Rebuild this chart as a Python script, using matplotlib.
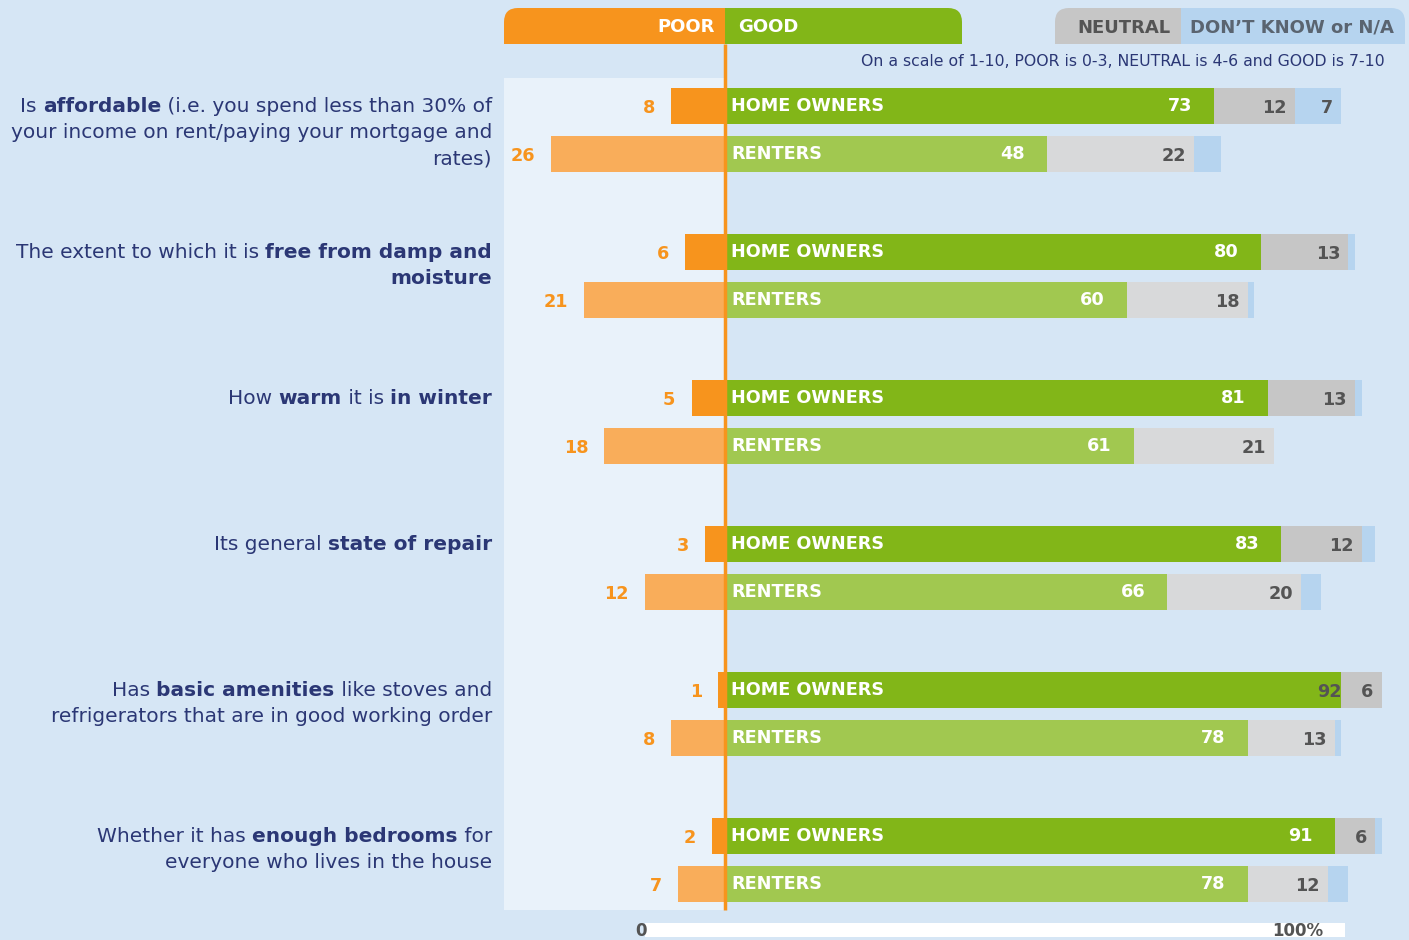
import numpy as np
import matplotlib
matplotlib.use("Agg")
import matplotlib.pyplot as plt
from matplotlib.patches import FancyBboxPatch, Rectangle

# survey results, % of respondents
groups = ["HOME OWNERS", "RENTERS"]
owners_poor = [8, 6, 5, 3, 1, 2]
owners_good = [73, 80, 81, 83, 92, 91]
owners_neutral = [12, 13, 13, 12, 6, 6]
owners_dk = [7, 1, 1, 2, 0, 1]
renters_poor = [26, 21, 18, 12, 8, 7]
renters_good = [48, 60, 61, 66, 78, 78]
renters_neutral = [22, 18, 21, 20, 13, 12]
renters_dk = [4, 1, 0, 3, 1, 3]

questions = [
    [[("Is ", 0), ("affordable", 1), (" (i.e. you spend less than 30% of", 0)],
     [("your income on rent/paying your mortgage and", 0)],
     [("rates)", 0)]],
    [[("The extent to which it is ", 0), ("free from damp and", 1)],
     [("moisture", 1)]],
    [[("How ", 0), ("warm", 1), (" it is ", 0), ("in winter", 1)]],
    [[("Its general ", 0), ("state of repair", 1)]],
    [[("Has ", 0), ("basic amenities", 1), (" like stoves and", 0)],
     [("refrigerators that are in good working order", 0)]],
    [[("Whether it has ", 0), ("enough bedrooms", 1), (" for", 0)],
     [("everyone who lives in the house", 0)]],
]

BG = "#d6e6f5"
PANEL = "#e9f2fa"
NAVY = "#2b3775"
ORANGE = "#f7941d"
ORANGE_L = "#f9ad5a"
GREEN = "#82b618"
GREEN_L = "#a1c850"
GRAY = "#c6c6c6"
GRAY_L = "#d8d9da"
BLUE = "#b6d4ef"
DARK = "#545454"
FONT = "DejaVu Sans"

W, H = 1409, 940
X0 = 725          # pixel of zero line
PPU = 6.7         # pixels per percent
PX = 1 / PPU

fig = plt.figure(figsize=(W / 100, H / 100), dpi=100, facecolor=BG)

# decoration layer in pixel coordinates
deco = fig.add_axes([0, 0, 1, 1])
deco.set_xlim(0, W)
deco.set_ylim(H, 0)
deco.axis("off")
deco.set_facecolor(BG)

deco.add_patch(Rectangle((504, 78), X0 - 504, 910 - 78, color=PANEL, lw=0))


def tab(x0, x1, color, round_left, round_right):
    r = 14
    deco.add_patch(FancyBboxPatch((x0, 8), x1 - x0, 36, boxstyle="round,pad=0,rounding_size=%d" % r,
                                  fc=color, ec="none"))
    deco.add_patch(Rectangle((x0, 8 + r), x1 - x0, 36 - r, fc=color, ec="none"))
    if not round_left:
        deco.add_patch(Rectangle((x0, 8), r + 1, 36, fc=color, ec="none"))
    if not round_right:
        deco.add_patch(Rectangle((x1 - r - 1, 8), r + 1, 36, fc=color, ec="none"))


tab(504, X0, ORANGE, True, False)
tab(X0, 962, GREEN, False, True)
tab(1055, 1181, GRAY, True, False)
tab(1181, 1405, BLUE, False, True)

hdr = dict(fontsize=13, fontweight="bold", family=FONT, va="center")
deco.text(715, 27, "POOR", color="white", ha="right", **hdr)
deco.text(738, 27, "GOOD", color="white", ha="left", **hdr)
deco.text(1124, 28, "NEUTRAL", color=DARK, ha="center", **hdr)
deco.text(1292, 28, "DON\u2019T KNOW or N/A", color="#5a6470", ha="center", **hdr)
deco.text(1385, 62, "On a scale of 1-10, POOR is 0-3, NEUTRAL is 4-6 and GOOD is 7-10",
          color=NAVY, fontsize=11.3, ha="right", va="center", family=FONT)

# bottom scale
deco.add_patch(Rectangle((645, 923), 700, 14, fc="white", ec="none"))
deco.text(641, 931, "0", color=DARK, fontsize=12, fontweight="bold", ha="center", va="center", family=FONT)
deco.text(1323, 931, "100%", color=DARK, fontsize=12, fontweight="bold", ha="right", va="center", family=FONT)

# data layer: x in percent, y in pixel rows
ax = fig.add_axes([0, 0, 1, 1])
ax.set_xlim(-X0 / PPU, (W - X0) / PPU)
ax.set_ylim(H, 0)
ax.axis("off")
ax.patch.set_alpha(0)

first = 106
step = 146
gap = 48
bh = 36
y_owner = first + step * np.arange(len(owners_good))
y_rent = y_owner + gap

series = [
    (y_owner, owners_poor, owners_good, owners_neutral, owners_dk, ORANGE, GREEN, GRAY, groups[0]),
    (y_rent, renters_poor, renters_good, renters_neutral, renters_dk, ORANGE_L, GREEN_L, GRAY_L, groups[1]),
]

lab = dict(fontsize=12.7, fontweight="bold", family=FONT, va="center")
for ys, poor, good, neu, dk, cp, cg, cn, name in series:
    poor = np.array(poor)
    good = np.array(good)
    neu = np.array(neu)
    dk = np.array(dk)
    ax.barh(ys, poor, left=-poor, height=bh, color=cp, lw=0)
    ax.barh(ys, good, left=0, height=bh, color=cg, lw=0)
    ax.barh(ys, neu, left=good, height=bh, color=cn, lw=0)
    ax.barh(ys, dk, left=good + neu, height=bh, color=BLUE, lw=0)
    for i, y in enumerate(ys):
        ax.text(6 * PX, y, name, color="white", ha="left", **lab)
        ax.text(-poor[i] - 16 * PX, y + 2, str(poor[i]), color=ORANGE, ha="right", **lab)
        if neu[i] < 8 and dk[i] == 0:
            ax.text(good[i], y + 2, str(good[i]), color=DARK, ha="right", **lab)
        else:
            ax.text(good[i] - 22 * PX, y, str(good[i]), color="white", ha="right", **lab)
        ax.text(good[i] + neu[i] - 8 * PX, y + 2, str(neu[i]), color=DARK, ha="right", **lab)
        if dk[i] >= 5:
            ax.text(good[i] + neu[i] + dk[i] - 8 * PX, y + 2, str(dk[i]), color=DARK, ha="right", **lab)

ax.plot([0, 0], [44, 910], color=ORANGE, lw=2.5, solid_capstyle="butt")

# question labels with mixed weights, right aligned
renderer = fig.canvas.get_renderer()
for qi, lines in enumerate(questions):
    for li, pieces in enumerate(lines):
        y = y_owner[qi] + li * 26.5
        x = 492
        for text, bold in reversed(pieces):
            t = deco.text(x, y, text, ha="right", va="center", color=NAVY, fontsize=14.5,
                          fontweight="bold" if bold else "normal", family=FONT)
            bb = t.get_window_extent(renderer)
            x = bb.x0

fig.savefig("out.png", dpi=100, facecolor=BG)
